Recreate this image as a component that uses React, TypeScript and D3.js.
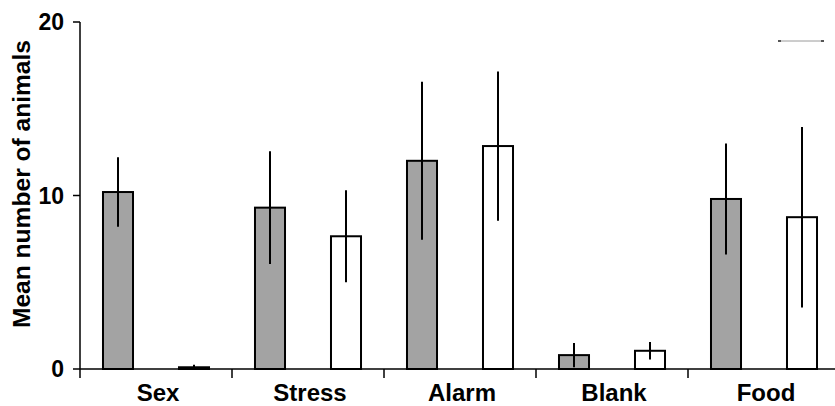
import React from "react";
import * as d3 from "d3";

const categories = ["Sex", "Stress", "Alarm", "Blank", "Food"];
const seriesNames = ["grey", "white"];
const greyMeans = [10.2, 9.3, 12.0, 0.8, 9.8];
const greyErrors = [2.0, 3.25, 4.55, 0.7, 3.2];
const whiteMeans = [0.1, 7.65, 12.85, 1.05, 8.75];
const whiteErrors = [0.15, 2.65, 4.3, 0.5, 5.2];
const yTicks = [0, 10, 20];

const W = 835;
const H = 406;
const FONT = "'Liberation Sans', Arial, sans-serif";

export default function App() {
  const x0 = d3.scaleBand<string>().domain(categories).range([80, 840]).padding(0);
  const x1 = d3
    .scaleBand<string>()
    .domain(seriesNames)
    .range([0, x0.bandwidth()])
    .paddingInner(0.605)
    .paddingOuter(0.3025);
  const y = d3.scaleLinear().domain([0, 20]).range([369, 22]);

  const series = [
    { key: "grey", means: greyMeans, errs: greyErrors, fill: "#a3a3a3" },
    { key: "white", means: whiteMeans, errs: whiteErrors, fill: "#ffffff" },
  ];

  return (
    <svg
      width={W}
      height={H}
      style={{ position: "absolute", left: 0, top: 0, background: "#fff" }}
      fontFamily={FONT}
    >
      {series.map((s) =>
        categories.map((c, i) => {
          const bx = (x0(c) as number) + (x1(s.key) as number);
          const bw = x1.bandwidth();
          const top = y(s.means[i]);
          return (
            <g key={s.key + c}>
              <rect
                x={bx}
                y={top}
                width={bw}
                height={y(0) - top}
                fill={s.fill}
                stroke="#000"
                strokeWidth={2}
              />
              <line
                x1={bx + bw / 2}
                x2={bx + bw / 2}
                y1={y(s.means[i] + s.errs[i])}
                y2={y(Math.max(0, s.means[i] - s.errs[i]))}
                stroke="#000"
                strokeWidth={2}
              />
            </g>
          );
        })
      )}

      <line x1={80} x2={80} y1={y(20)} y2={378} stroke="#000" strokeWidth={1.5} />
      {yTicks.map((t) => (
        <g key={t}>
          <line x1={73} x2={80} y1={y(t)} y2={y(t)} stroke="#000" strokeWidth={1.5} />
          <text
            x={64}
            y={y(t)}
            dy="0.36em"
            textAnchor="end"
            fontSize={23}
            fontWeight="bold"
          >
            {t}
          </text>
        </g>
      ))}

      <line x1={80} x2={W} y1={y(0)} y2={y(0)} stroke="#000" strokeWidth={1.5} />
      {categories.slice(1).map((c) => (
        <line
          key={c}
          x1={x0(c) as number}
          x2={x0(c) as number}
          y1={y(0)}
          y2={378}
          stroke="#000"
          strokeWidth={1.5}
        />
      ))}
      {categories.map((c) => (
        <text
          key={c}
          x={(x0(c) as number) + x0.bandwidth() / 2 + 2}
          y={401}
          textAnchor="middle"
          fontSize={24}
          fontWeight="bold"
        >
          {c}
        </text>
      ))}

      <text
        transform={`translate(30,184) rotate(-90)`}
        textAnchor="middle"
        fontSize={23}
        fontWeight="bold"
        textLength={288}
        lengthAdjust="spacingAndGlyphs"
      >
        Mean number of animals
      </text>

      <line x1={779} x2={823} y1={41} y2={41} stroke="#9a9a9a" strokeWidth={1} />
      <rect x={778} y={40} width={3} height={2} fill="#555" />
      <rect x={821} y={40} width={3} height={2} fill="#555" />
    </svg>
  );
}
